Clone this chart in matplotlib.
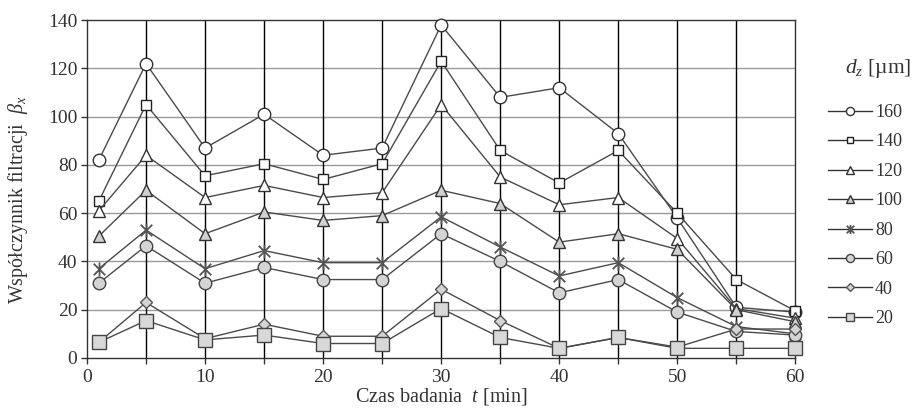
import matplotlib
matplotlib.use("Agg")
import matplotlib.pyplot as plt
from matplotlib.lines import Line2D
from matplotlib.path import Path

plt.rcParams['font.family'] = ['Liberation Serif', 'DejaVu Serif']
plt.rcParams['mathtext.fontset'] = 'custom'
plt.rcParams['mathtext.rm'] = 'Liberation Serif'
plt.rcParams['mathtext.it'] = 'Liberation Serif:italic'

t = [1, 5, 10, 15, 20, 25, 30, 35, 40, 45, 50, 55, 60]
labels = ['160', '140', '120', '100', '80', '60', '40', '20']
d160 = [82, 122, 87, 101, 84, 87, 138, 108, 112, 93, 58, 21, 19]
d140 = [65, 105, 75.5, 80.5, 74, 80.5, 123, 86, 72.5, 86, 60, 32.5, 19.5]
d120 = [61, 84, 66.5, 71.5, 66.5, 68.5, 105, 75, 63.5, 66.5, 49.5, 20.5, 16.5]
d100 = [50.5, 69.5, 51.5, 60.5, 57, 59, 69.5, 64, 48, 51.5, 45, 20, 15]
d80 = [37, 53, 37, 44.5, 39.5, 39.5, 58.5, 46, 34, 39.5, 25, 13, 10]
d60 = [31, 46.5, 31, 37.5, 32.5, 32.5, 51.5, 40, 27, 32.5, 19, 11, 9.5]
d40 = [6.5, 23, 8, 14, 9, 9, 28.5, 15.5, 4, 8.5, 4.5, 12, 12]
d20 = [6.5, 15.5, 7.5, 9.5, 6, 6, 20.5, 8.5, 4, 8.5, 4, 4, 4]
series = [d160, d140, d120, d100, d80, d60, d40, d20]

# Excel-like star marker: X with a vertical bar
star = Path([(-1, -1), (1, 1), (-1, 1), (1, -1), (0, -1.2), (0, 1.2)],
            [Path.MOVETO, Path.LINETO, Path.MOVETO, Path.LINETO, Path.MOVETO, Path.LINETO])

styles = [
    dict(marker='o', mfc='white', mec='#333333', ms=9, mew=1.0),
    dict(marker='s', mfc='white', mec='#222222', ms=7.5, mew=1.0),
    dict(marker='^', mfc='white', mec='#333333', ms=9, mew=1.0),
    dict(marker='^', mfc='#d0d0d0', mec='#333333', ms=9, mew=1.0),
    dict(marker=star, mfc='none', mec='#555555', ms=10, mew=1.3),
    dict(marker='o', mfc='#d4d4d4', mec='#444444', ms=9, mew=1.0),
    dict(marker='D', mfc='#d4d4d4', mec='#555555', ms=6.5, mew=1.0),
    dict(marker='s', mfc='#d8d8d8', mec='#444444', ms=9.5, mew=1.0),
]

TXT = '#333333'
fig = plt.figure(figsize=(9.14, 4.13), dpi=100)
ax = fig.add_axes([0.0952, 0.1332, 0.775, 0.818])

for y, st in zip(series, styles):
    ax.plot(t, y, color='#4a4a4a', lw=1.0, zorder=3, clip_on=False, **st)

ax.set_xlim(0, 60)
ax.set_ylim(0, 140)
ax.set_xticks(range(0, 61, 5))
ax.set_xticklabels([str(v) if v % 10 == 0 else '' for v in range(0, 61, 5)])
ax.set_yticks(range(0, 141, 20))
for v in range(20, 140, 20):
    ax.axhline(v, color='#9a9a9a', lw=1.0, zorder=1)
for v in range(5, 60, 5):
    ax.axvline(v, color='black', lw=1.0, zorder=2)
for s in ax.spines.values():
    s.set_color('#333333')
    s.set_linewidth(1.0)
ax.tick_params(axis='both', direction='out', length=4, width=1.0, color='#333333',
               labelsize=14, labelcolor=TXT)
ax.tick_params(axis='x', pad=4)
ax.tick_params(axis='y', pad=3)

ax.set_xlabel(r'Czas badania  $t$ [min]', fontsize=14.5, color=TXT, labelpad=0)
ax.set_ylabel(r'Współczynnik filtracji  $\beta_x$', fontsize=14.5, color=TXT)
ax.yaxis.set_label_coords(-0.081, 0.47)

handles = []
for st in styles:
    st2 = dict(st)
    st2['ms'] = st2['ms'] * 0.65
    handles.append(Line2D([], [], color='#333333', lw=1.0, **st2))
leg = fig.legend(handles, labels, loc='upper left', bbox_to_anchor=(828 / 914, 1 - 104 / 413),
                 frameon=False, fontsize=13, handlelength=2.45, handletextpad=0.15,
                 labelspacing=0.69, borderpad=0, borderaxespad=0)
for txt in leg.get_texts():
    txt.set_color(TXT)
fig.text(911 / 914, 1 - 68 / 413, r'$d_z$ [µm]', ha='right', va='center', fontsize=15.5, color=TXT)

fig.savefig('out.png', dpi=100)
